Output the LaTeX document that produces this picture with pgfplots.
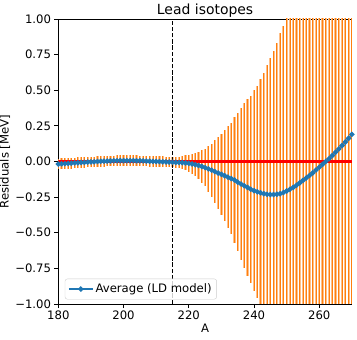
\documentclass[border=0pt]{standalone}
\usepackage{pgfplots}
\pgfplotsset{compat=1.18}
\usepackage{pgfplotstable}
\usepackage{fontspec}
\setmainfont{DejaVu Sans}
\definecolor{tabblue}{HTML}{1F77B4}
\definecolor{taborange}{HTML}{FF7F0E}
\definecolor{lightorange}{HTML}{FFBF87}

% A, average residual, error
\pgfplotstableread{
A   y       e
180 -0.018  0.038
181 -0.016  0.038
182 -0.015  0.038
183 -0.013  0.037
184 -0.012  0.038
185 -0.010  0.037
186 -0.009  0.038
187 -0.007  0.037
188 -0.006  0.038
189 -0.004  0.037
190 -0.003  0.038
191 -0.002  0.037
192  0.000  0.038
193  0.001  0.037
194  0.002  0.038
195  0.003  0.037
196  0.004  0.038
197  0.005  0.037
198  0.005  0.038
199  0.006  0.037
200  0.006  0.038
201  0.006  0.037
202  0.006  0.038
203  0.006  0.037
204  0.005  0.038
205  0.005  0.037
206  0.004  0.038
207  0.003  0.037
208  0.002  0.038
209  0.001  0.037
210  0.000  0.038
211 -0.001  0.037
212 -0.002  0.038
213 -0.003  0.037
214 -0.004  0.037
215 -0.005  0.037
216 -0.006  0.040
217 -0.007  0.042
218 -0.008  0.047
219 -0.010  0.053
220 -0.013  0.060
221 -0.017  0.070
222 -0.022  0.083
223 -0.028  0.097
224 -0.035  0.114
225 -0.043  0.132
226 -0.052  0.159
227 -0.061  0.187
228 -0.071  0.221
229 -0.081  0.251
230 -0.090  0.286
231 -0.100  0.320
232 -0.110  0.358
233 -0.120  0.390
234 -0.130  0.440
235 -0.145  0.482
236 -0.158  0.535
237 -0.170  0.577
238 -0.182  0.622
239 -0.195  0.658
240 -0.205  0.705
241 -0.213  0.746
242 -0.220  0.800
243 -0.226  0.846
244 -0.230  0.904
245 -0.232  0.960
246 -0.232  1.010
247 -0.230  1.060
248 -0.226  1.130
249 -0.218  1.170
250 -0.207  1.230
251 -0.195  1.300
252 -0.182  1.370
253 -0.167  1.440
254 -0.150  1.510
255 -0.133  1.580
256 -0.116  1.650
257 -0.098  1.720
258 -0.080  1.790
259 -0.060  1.860
260 -0.040  1.930
261 -0.020  2.000
262  0.000  2.070
263  0.020  2.140
264  0.042  2.210
265  0.065  2.280
266  0.088  2.350
267  0.112  2.420
268  0.137  2.490
269  0.163  2.560
270  0.190  2.630
}\lead

\begin{document}
\begin{tikzpicture}[font=\fontsize{11.7}{14}\selectfont]
\begin{axis}[
    at={(0,0)}, anchor=south west,
    scale only axis,
    width=293.6bp, height=285bp,
    xmin=180, xmax=270,
    ymin=-1, ymax=1,
    xtick={180,200,220,240,260},
    xticklabels={180,200,220,240,260},
    ytick={-1,-0.75,-0.5,-0.25,0,0.25,0.5,0.75,1},
    yticklabels={−1.00,−0.75,−0.50,−0.25,0.00,0.25,0.50,0.75,1.00},
    tick align=outside, tick pos=left,
    major tick length=4.1bp,
    tick style={black, line width=0.9bp},
    axis line style={line width=0.9bp},
    xticklabel style={inner sep=1bp, yshift=-2bp},
    yticklabel style={inner sep=1bp, xshift=-2bp},
    title={Lead isotopes},
    title style={font=\fontsize{14}{16}\selectfont, inner sep=0pt,
        at={(0.5,1)}, anchor=base, yshift=-1bp},
    xlabel={A},
    ylabel={Residuals [MeV]},
    xlabel style={inner sep=0pt, yshift=-3bp},
    ylabel style={inner sep=0pt, yshift=4bp},
    legend style={at={(0.022,0.016)}, anchor=south west,
        draw=black!20, rounded corners=2.5bp, fill=white, fill opacity=0.8,
        text opacity=1, inner xsep=3bp, inner ysep=3bp,
        nodes={inner sep=2bp},
        font=\fontsize{11.7}{14}\selectfont},
    legend cell align=left,
    legend image code/.code={
        \draw[mark repeat=2, mark phase=2, #1]
            plot coordinates {(0bp,0bp) (12bp,0bp) (24bp,0bp)};},
]
% error bars: soft wide stroke, then solid core
\addplot[draw=none, forget plot,
    error bars/.cd, y dir=both, y explicit, error mark=none,
    error bar style={draw=lightorange, line width=2.2bp}]
    table[x=A, y=y, y error=e] {\lead};
\addplot[draw=none, forget plot,
    error bars/.cd, y dir=both, y explicit, error mark=none,
    error bar style={draw=taborange, line width=0.8bp}]
    table[x=A, y=y, y error=e] {\lead};

% zero line
\addplot[color=red, line width=2.2bp, forget plot, mark=none]
    coordinates {(180,0) (225,0) (270,0)};

% dashed marker at A = 215
\addplot[black, line width=1.1bp, dash pattern=on 4.3bp off 1.9bp, forget plot]
    coordinates {(215,-1) (215,1)};

\addplot[tabblue, line width=1.6bp, mark=*, mark size=1.8bp,
    mark options={solid, fill=tabblue}]
    table[x=A, y=y] {\lead};
\addlegendentry{Average (LD model)}

\addplot[taborange, line width=0.9bp, forget plot] table[x=A, y=y] {\lead};
\end{axis}
\pgfresetboundingbox
\useasboundingbox (-58.3bp,-36bp) rectangle (298.7bp,304bp);
\end{tikzpicture}
\end{document}
